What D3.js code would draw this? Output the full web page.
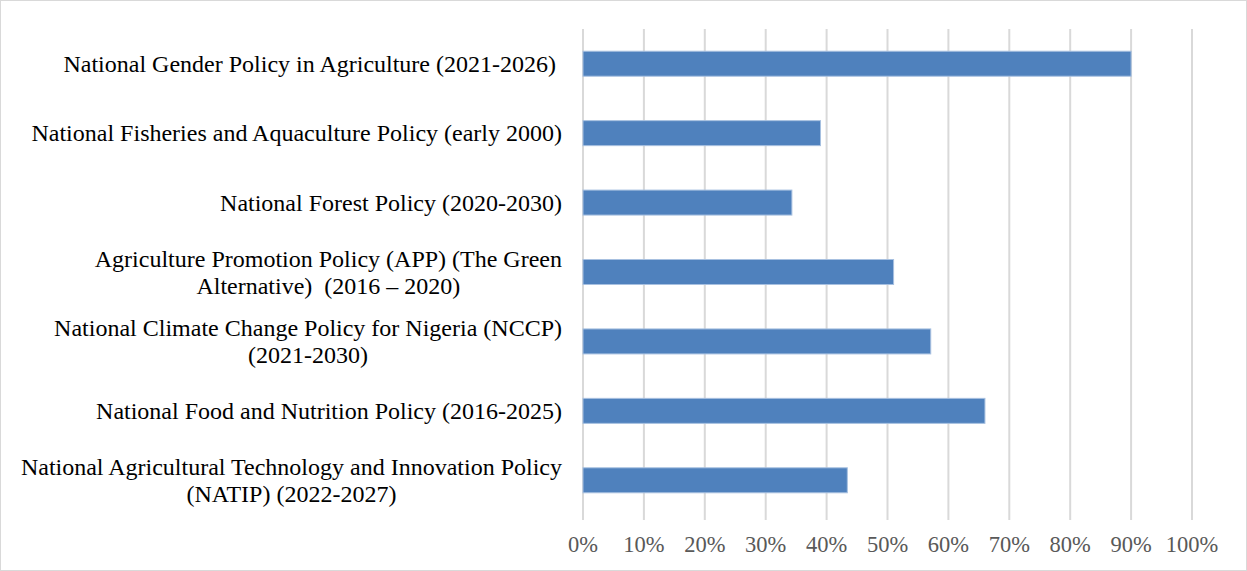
<!DOCTYPE html>
<html><head><meta charset="utf-8">
<script src="https://cdn.jsdelivr.net/npm/d3@7"></script>
<style>body{margin:0;background:#fff}svg{display:block}text{white-space:pre}</style>
</head><body>
<svg id="c" width="1247" height="571"></svg>
<script>
const categories = [
  ["National Gender Policy in Agriculture (2021-2026) "],
  ["National Fisheries and Aquaculture Policy (early 2000)"],
  ["National Forest Policy (2020-2030)"],
  ["Agriculture Promotion Policy (APP) (The Green", "Alternative)  (2016 \u2013 2020)"],
  ["National Climate Change Policy for Nigeria (NCCP)", "(2021-2030)"],
  ["National Food and Nutrition Policy (2016-2025)"],
  ["National Agricultural Technology and Innovation Policy", "(NATIP) (2022-2027)"]
];
const values = [0.90, 0.39, 0.343, 0.51, 0.571, 0.66, 0.434];
const tickValues = [0,0.1,0.2,0.3,0.4,0.5,0.6,0.7,0.8,0.9,1.0];

const FONT = "'Liberation Serif', 'Times New Roman', Times, serif";
const svg = d3.select("#c");
svg.append("rect").attr("x",0.5).attr("y",0.5).attr("width",1246).attr("height",570)
  .attr("fill","#fff").attr("stroke","#d9d9d9").attr("stroke-width",1);

const x = d3.scaleLinear().domain([0,1]).range([583,1192]);
const y = d3.scaleBand().domain(d3.range(categories.length)).range([29,515]).paddingInner(0.64).paddingOuter(0.32);

// gridlines
svg.append("g").selectAll("line").data(tickValues).join("line")
  .attr("x1",d=>x(d)).attr("x2",d=>x(d)).attr("y1",29).attr("y2",520)
  .attr("stroke","#d9d9d9").attr("stroke-width",2);

// tick labels
svg.append("g").selectAll("text").data(tickValues).join("text")
  .attr("x",d=>x(d)).attr("y",552).attr("text-anchor","middle")
  .style("font-family",FONT).attr("font-size",22.5)
  .attr("fill","#595959").text(d3.format(".0%"));

// bars
svg.append("g").selectAll("rect").data(values).join("rect")
  .attr("x",x(0)).attr("y",(d,i)=>y(i)).attr("width",d=>x(d)-x(0)).attr("height",y.bandwidth())
  .attr("fill","#4f81bd").attr("stroke","#a7c0e0").attr("stroke-width",1);

// category labels
const lab = svg.append("g").style("font-family",FONT)
  .attr("font-size",24).attr("fill","#000");
const right = 562, lh = 27;
categories.forEach((lines,i)=>{
  const cy = y(i)+y.bandwidth()/2;
  const g = lab.append("g");
  const ts = lines.map((l,j)=>g.append("text").attr("xml:space","preserve")
    .attr("y", cy + (j - (lines.length-1)/2)*lh + 8).text(l));
  const w = d3.max(ts, t=>t.node().getComputedTextLength());
  ts.forEach(t=>t.attr("x", right - w/2).attr("text-anchor","middle"));
});
</script>
</body></html>
